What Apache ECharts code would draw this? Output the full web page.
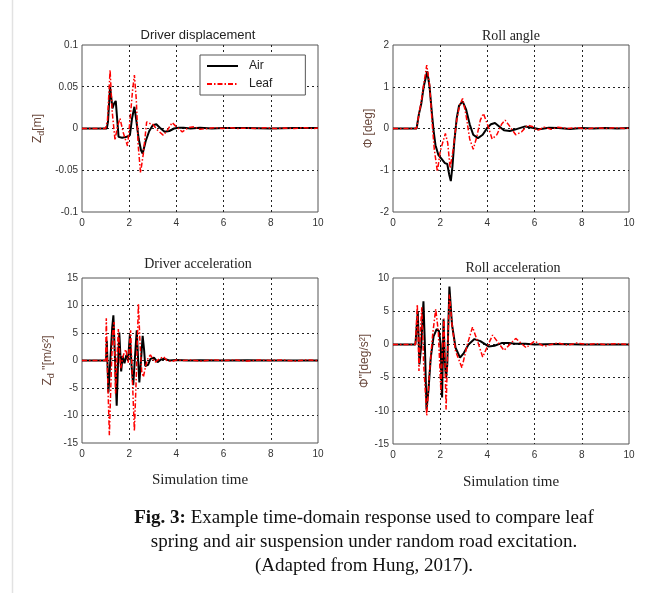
<!DOCTYPE html>
<html>
<head>
<meta charset="utf-8">
<script src="https://cdn.jsdelivr.net/npm/echarts@6/dist/echarts.min.js"></script>
<style>
  html, body { margin: 0; padding: 0; background: #fff; }
  #chart { position: absolute; left: 0; top: 0; width: 656px; height: 593px; }
  #caption { position: absolute; left: 64px; top: 505px; width: 600px; text-align: center;
    font-family: "Liberation Serif", "Times New Roman", serif; font-size: 19px; line-height: 24px; color: #111; }
</style>
</head>
<body>
<div id="chart"></div>
<div id="caption"><b>Fig. 3:</b> Example time-domain response used to compare leaf<br>spring and air suspension under random road excitation.<br>(Adapted from Hung, 2017).</div>
<script>
// ---- Data (time [s], value) ----
const seriesNames = ['Air', 'Leaf'];
const panelTitles = ['Driver displacement', 'Roll angle', 'Driver acceleration', 'Roll acceleration'];
const xTicks = [0, 2, 4, 6, 8, 10];

const dispAir = [[0,0],[1.05,0],[1.1,0.008],[1.19,0.050],[1.29,0.024],[1.36,0.030],[1.43,0.033],[1.48,0.015],[1.55,-0.010],[1.7,-0.011],[1.9,-0.010],[2.03,-0.008],[2.12,0.012],[2.22,0.026],[2.3,0.010],[2.4,-0.012],[2.5,-0.026],[2.57,-0.030],[2.7,-0.015],[2.85,-0.003],[3.0,0.004],[3.15,0.005],[3.3,0.001],[3.5,-0.004],[3.7,-0.003],[3.9,0],[4.1,0.001],[4.3,0.001],[4.6,0],[5.0,0.001],[5.5,0],[6,0.0005],[7,0.0005],[8,0],[9,0.0005],[10,0.0005]];
const dispLeaf = [[0,0],[1.0,0],[1.08,0.01],[1.19,0.070],[1.28,0.02],[1.4,-0.014],[1.5,0.002],[1.61,0.012],[1.75,-0.005],[1.93,-0.021],[2.05,0.015],[2.14,0.045],[2.22,0.064],[2.3,0.035],[2.38,-0.02],[2.48,-0.053],[2.6,-0.03],[2.74,0.008],[2.88,0.006],[3.0,0.005],[3.2,-0.002],[3.44,-0.008],[3.6,-0.003],[3.82,0.007],[4.0,0.002],[4.25,-0.004],[4.5,0.001],[4.75,0.002],[5.0,-0.001],[5.3,0],[5.6,0.001],[6.0,0],[6.3,0.001],[6.6,0],[7.0,0.0005],[7.4,0],[7.8,0.001],[8.2,0],[8.6,0.0005],[9.0,0],[9.4,0.001],[9.8,0],[10,0.0005]];

const rollAir = [[0,0],[1.0,0],[1.1,0.35],[1.2,0.6],[1.3,1.0],[1.45,1.37],[1.55,1.0],[1.65,0.35],[1.72,-0.05],[1.8,-0.4],[1.92,-0.63],[2.05,-0.72],[2.2,-0.83],[2.3,-0.85],[2.38,-1.1],[2.45,-1.26],[2.52,-0.9],[2.6,-0.3],[2.7,0.25],[2.8,0.55],[2.95,0.65],[3.1,0.45],[3.25,0.1],[3.4,-0.15],[3.6,-0.23],[3.8,-0.15],[4.0,0.02],[4.15,0.1],[4.32,0.13],[4.5,0.05],[4.7,-0.04],[4.95,-0.06],[5.2,-0.02],[5.6,0.05],[5.9,0.02],[6.2,-0.02],[6.6,0.02],[7.0,0.01],[7.5,-0.01],[8.0,0.01],[8.5,0],[9.0,0.01],[9.5,0],[10,0.01]];
const rollLeaf = [[0,0],[1.0,0],[1.1,0.35],[1.2,0.65],[1.3,1.05],[1.43,1.52],[1.55,1.05],[1.65,0.2],[1.75,-0.5],[1.88,-1.03],[2.0,-0.55],[2.1,-0.35],[2.22,-0.12],[2.32,-0.35],[2.42,-0.95],[2.55,-0.5],[2.7,0.2],[2.82,0.55],[2.95,0.72],[3.1,0.3],[3.25,-0.25],[3.4,-0.5],[3.55,-0.2],[3.7,0.2],[3.83,0.36],[4.0,0.1],[4.2,-0.25],[4.4,-0.15],[4.6,0.1],[4.75,0.2],[4.95,0.05],[5.2,-0.15],[5.45,-0.08],[5.7,0.08],[5.9,0.05],[6.1,-0.05],[6.4,0.03],[6.7,-0.02],[7.0,0.03],[7.4,0],[7.8,0.02],[8.2,-0.01],[8.6,0.02],[9.0,0],[9.4,0.02],[9.8,0],[10,0.01]];

const accAir = [[0,0],[1.02,0],[1.05,3.6],[1.12,-5.8],[1.2,0],[1.28,6],[1.33,8.2],[1.4,0],[1.47,-8.2],[1.53,0],[1.58,5.1],[1.66,-2],[1.72,0.8],[1.8,-0.5],[1.88,1.0],[1.95,0],[2.03,4.7],[2.1,-1],[2.17,-4.5],[2.25,1],[2.32,5.5],[2.38,0],[2.43,-4],[2.5,0],[2.57,4.5],[2.63,2],[2.68,-1],[2.8,-0.8],[2.9,0.3],[3.05,0.5],[3.2,-0.3],[3.35,0.2],[3.5,0.3],[3.7,0],[4.0,0.1],[4.5,0],[5,0.05],[6,0],[7,0.05],[8,0],[9,0],[10,0]];
const accLeaf = [[0,0],[1.0,0],[1.03,7.7],[1.08,-2],[1.16,-13.6],[1.24,-2],[1.3,5],[1.36,7],[1.42,-6],[1.48,0],[1.54,5.7],[1.6,1],[1.64,-1.5],[1.72,0.5],[1.8,1.5],[1.86,2],[1.96,-0.4],[2.06,5.5],[2.14,-4],[2.22,-12.8],[2.3,-3],[2.39,10.3],[2.46,3],[2.53,-2],[2.6,-3],[2.7,-1],[2.8,0.5],[2.9,1],[3.0,0.3],[3.1,-0.3],[3.25,0.2],[3.45,0.7],[3.6,0],[3.8,-0.2],[4.0,0.1],[4.3,0],[4.6,0.1],[5,-0.1],[5.5,0.1],[6,0],[6.5,0.1],[7,-0.1],[7.5,0.1],[8,0],[8.5,0.1],[9,-0.1],[9.5,0.1],[10,0]];

const rollAccAir = [[0,0],[0.95,0],[1.05,5],[1.12,-3],[1.2,0],[1.29,6.5],[1.35,0],[1.42,-9.8],[1.5,-7],[1.6,-2],[1.72,1.2],[1.85,2.3],[1.95,2],[2.02,0],[2.08,-8],[2.14,3.8],[2.2,-3],[2.25,-5],[2.3,-3],[2.39,8.7],[2.5,3],[2.65,-0.5],[2.84,-2],[3.0,-1.3],[3.2,0],[3.45,0.8],[3.7,0.5],[4.05,-0.3],[4.3,-0.2],[4.6,0.2],[4.9,0.2],[5.2,0.1],[5.6,0.1],[6,0],[7,0.05],[8,0],[9,0],[10,0]];
const rollAccLeaf = [[0,0],[0.95,0],[1.03,6],[1.1,-4],[1.16,2],[1.22,5.6],[1.3,-3],[1.43,-10.7],[1.55,-4],[1.68,1.5],[1.81,5.3],[1.92,2],[2.03,-7.2],[2.1,0],[2.16,3.9],[2.25,-9.8],[2.32,0],[2.39,7.5],[2.5,3],[2.65,-1],[2.92,-3.5],[3.15,0],[3.37,2.6],[3.58,0.5],[3.8,-1.9],[4.0,-0.3],[4.22,1.4],[4.45,0.3],[4.7,-0.9],[4.95,0],[5.2,0.9],[5.42,0.2],[5.64,-0.5],[5.82,0],[6.0,0.5],[6.2,0.1],[6.4,-0.3],[6.7,0],[7.0,0.2],[7.4,-0.1],[7.8,0.2],[8.2,0],[8.6,0.1],[9.0,0],[9.5,0.1],[10,0]];

const yRanges = [[-0.1, 0.1, 0.05], [-2, 2, 1], [-15, 15, 5], [-15, 10, 5]];
const airData = [dispAir, rollAir, accAir, rollAccAir];
const leafData = [dispLeaf, rollLeaf, accLeaf, rollAccLeaf];

// ---- Layout / style ----
const grids = [
  {left: 82, top: 45, width: 236, height: 167},
  {left: 393, top: 45, width: 236, height: 167},
  {left: 82, top: 278, width: 236, height: 165},
  {left: 393, top: 278, width: 236, height: 166}
];
const yNames = [
  '{n|Z}{s|d}{n|[m]}',
  '{n|Φ [deg]}',
  '{n|Z}{s|d}{n| \'\'[m/s²]}',
  '{n|Φ\'\'[deg/s²]}'
];
const yNameGaps = [36, 16, 26, 14];
const titlePos = [[198, 35, 'Liberation Sans', 13], [511, 36, 'Liberation Serif', 14], [198, 264, 'Liberation Serif', 14], [513, 268, 'Liberation Serif', 14]];

const labelStyle = {fontFamily: 'Liberation Sans', fontSize: 10, color: '#333'};
const splitStyle = {show: true, showMinLine: false, showMaxLine: false, lineStyle: {color: '#222', width: 1, type: [2, 3]}};
const nameColor = '#6b4a3e';

const option = {
  animation: false,
  backgroundColor: '#fff',
  grid: grids.map(g => Object.assign({show: true, borderColor: '#555', borderWidth: 1, backgroundColor: '#fff', containLabel: false}, g)),
  xAxis: grids.map((g, i) => ({
    type: 'value', gridIndex: i, min: xTicks[0], max: xTicks[xTicks.length - 1], interval: 2,
    axisLine: {show: false}, axisTick: {show: false},
    axisLabel: Object.assign({margin: 6}, labelStyle),
    splitLine: splitStyle,
    name: i >= 2 ? 'Simulation time' : '',
    nameLocation: 'middle', nameGap: i === 2 ? 30 : 31,
    nameTextStyle: {fontFamily: 'Liberation Serif', fontSize: 15, color: '#222'}
  })),
  yAxis: grids.map((g, i) => ({
    type: 'value', gridIndex: i, min: yRanges[i][0], max: yRanges[i][1], interval: yRanges[i][2],
    axisLine: {show: false}, axisTick: {show: false},
    axisLabel: Object.assign({margin: 4}, labelStyle),
    splitLine: splitStyle,
    name: yNames[i], nameLocation: 'middle', nameGap: yNameGaps[i], nameRotate: 90,
    nameTextStyle: {
      color: nameColor,
      rich: {
        n: {fontFamily: 'Liberation Sans', fontSize: 12, color: nameColor, lineHeight: 16},
        s: {fontFamily: 'Liberation Sans', fontSize: 9, color: nameColor, lineHeight: 16, verticalAlign: 'bottom'}
      }
    }
  })),
  legend: {
    data: seriesNames, orient: 'vertical', left: 200, top: 55,
    backgroundColor: '#fff', borderColor: '#555', borderWidth: 1,
    padding: [5, 33, 5, 6], itemGap: 6, itemWidth: 31, itemHeight: 14,
    itemStyle: {opacity: 0},
    textStyle: {fontFamily: 'Liberation Sans', fontSize: 12, color: '#222', padding: [0, 0, 0, 6]}
  },
  graphic: [
    {type: 'line', shape: {x1: 12.5, y1: 0, x2: 12.5, y2: 593}, style: {stroke: '#e2e2e2', lineWidth: 1.5}}
  ].concat(panelTitles.map((t, i) => ({
    type: 'text', x: titlePos[i][0], y: titlePos[i][1],
    style: {text: t, font: titlePos[i][3] + 'px "' + titlePos[i][2] + '"', fill: '#222', align: 'center', verticalAlign: 'middle'}
  }))),
  series: []
};

for (let i = 0; i < 4; i++) {
  option.series.push({
    name: 'Air', type: 'line', xAxisIndex: i, yAxisIndex: i, data: airData[i],
    showSymbol: false, symbol: 'none', lineStyle: {color: '#000', width: 2}, itemStyle: {color: '#000'}, z: 3
  });
  option.series.push({
    name: 'Leaf', type: 'line', xAxisIndex: i, yAxisIndex: i, data: leafData[i],
    showSymbol: false, symbol: 'none', lineStyle: {color: '#ff0000', width: 1.5, type: [5, 2, 1.5, 2]}, itemStyle: {color: '#ff0000'}, z: 4
  });
}

const chart = echarts.init(document.getElementById('chart'), null, {renderer: 'canvas'});
chart.setOption(option);
</script>
</body>
</html>
